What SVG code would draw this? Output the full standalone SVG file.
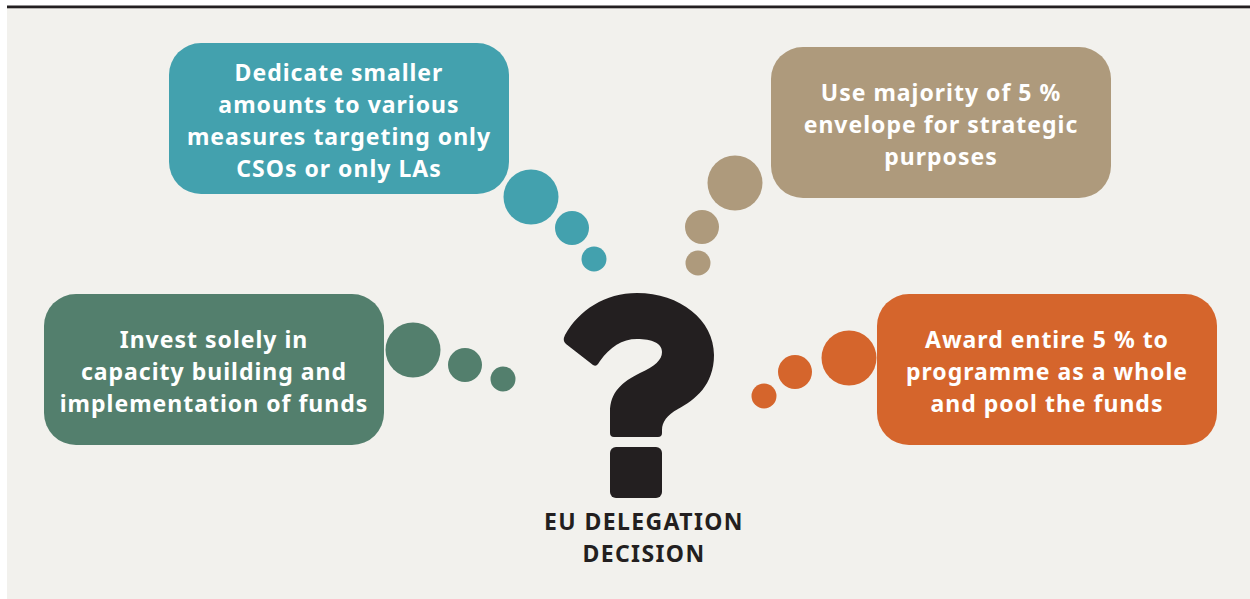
<svg xmlns="http://www.w3.org/2000/svg" width="1250" height="599" viewBox="0 0 1250 599">
<style>
.t{font-family:"Noto Sans","Liberation Sans",sans-serif;font-weight:700;font-size:23px;fill:#ffffff;text-anchor:middle;letter-spacing:1px}
.d{font-family:"Noto Sans","Liberation Sans",sans-serif;font-weight:700;font-size:23px;fill:#231f20;text-anchor:middle;letter-spacing:1.4px}
.teal{fill:#43a1ae}.tan{fill:#ae9a7c}.green{fill:#537f6d}.orange{fill:#d5652c}
</style>
<rect x="0" y="0" width="1250" height="599" fill="#ffffff"/>
<rect x="7" y="8" width="1243" height="591" fill="#f2f1ed"/>
<rect x="7" y="5.5" width="1243" height="2.8" fill="#231f20"/>
<g id="question">
<path fill="#231f20" d="M565,335 C579,310 605,293 637,293 C680,293 714,320 714,355 C714,385 695,400 678,409 C667,415 662,422 662,430 L662,433 Q662,437 658,437 L614,437 Q610,437 610,433 L610,412 C610,392 622,382 640,373 C655,366 662,360 662,352 C662,343 652,339 637,339 C622,339 610,347 600,361 L598,364 Q596,367 593,365 L566,344 Q562,341 565,335 Z"/>
<rect x="610" y="447" width="52" height="51" rx="6" fill="#231f20"/>
<text class="d" x="644" y="530">EU DELEGATION</text>
<text class="d" x="644" y="562">DECISION</text>
</g>
<g id="connectors">
<circle class="teal" cx="531" cy="197" r="27.5"/>
<circle class="teal" cx="572" cy="228" r="17"/>
<circle class="teal" cx="594" cy="259" r="12.5"/>
<circle class="tan" cx="735" cy="183" r="27.5"/>
<circle class="tan" cx="702" cy="227" r="17"/>
<circle class="tan" cx="698" cy="263" r="12.5"/>
<circle class="green" cx="413" cy="350" r="27.5"/>
<circle class="green" cx="465" cy="365" r="17"/>
<circle class="green" cx="503" cy="379" r="12.5"/>
<circle class="orange" cx="849" cy="358" r="27.5"/>
<circle class="orange" cx="795" cy="372" r="17"/>
<circle class="orange" cx="764" cy="396" r="12.5"/>
</g>
<g id="node-teal">
<rect class="teal" x="169" y="43" width="340" height="151" rx="32"/>
<text class="t" x="339" y="81">Dedicate smaller</text>
<text class="t" x="339" y="113">amounts to various</text>
<text class="t" x="339" y="145">measures targeting only</text>
<text class="t" x="339" y="177">CSOs or only LAs</text>
</g>
<g id="node-tan">
<rect class="tan" x="771" y="47" width="340" height="151" rx="32"/>
<text class="t" x="941" y="101">Use majority of 5 %</text>
<text class="t" x="941" y="133">envelope for strategic</text>
<text class="t" x="941" y="165">purposes</text>
</g>
<g id="node-green">
<rect class="green" x="44" y="294" width="340" height="151" rx="32"/>
<text class="t" x="214" y="348">Invest solely in</text>
<text class="t" x="214" y="380">capacity building and</text>
<text class="t" x="214" y="412">implementation of funds</text>
</g>
<g id="node-orange">
<rect class="orange" x="877" y="294" width="340" height="151" rx="32"/>
<text class="t" x="1047" y="348">Award entire 5 % to</text>
<text class="t" x="1047" y="380">programme as a whole</text>
<text class="t" x="1047" y="412">and pool the funds</text>
</g>
</svg>
